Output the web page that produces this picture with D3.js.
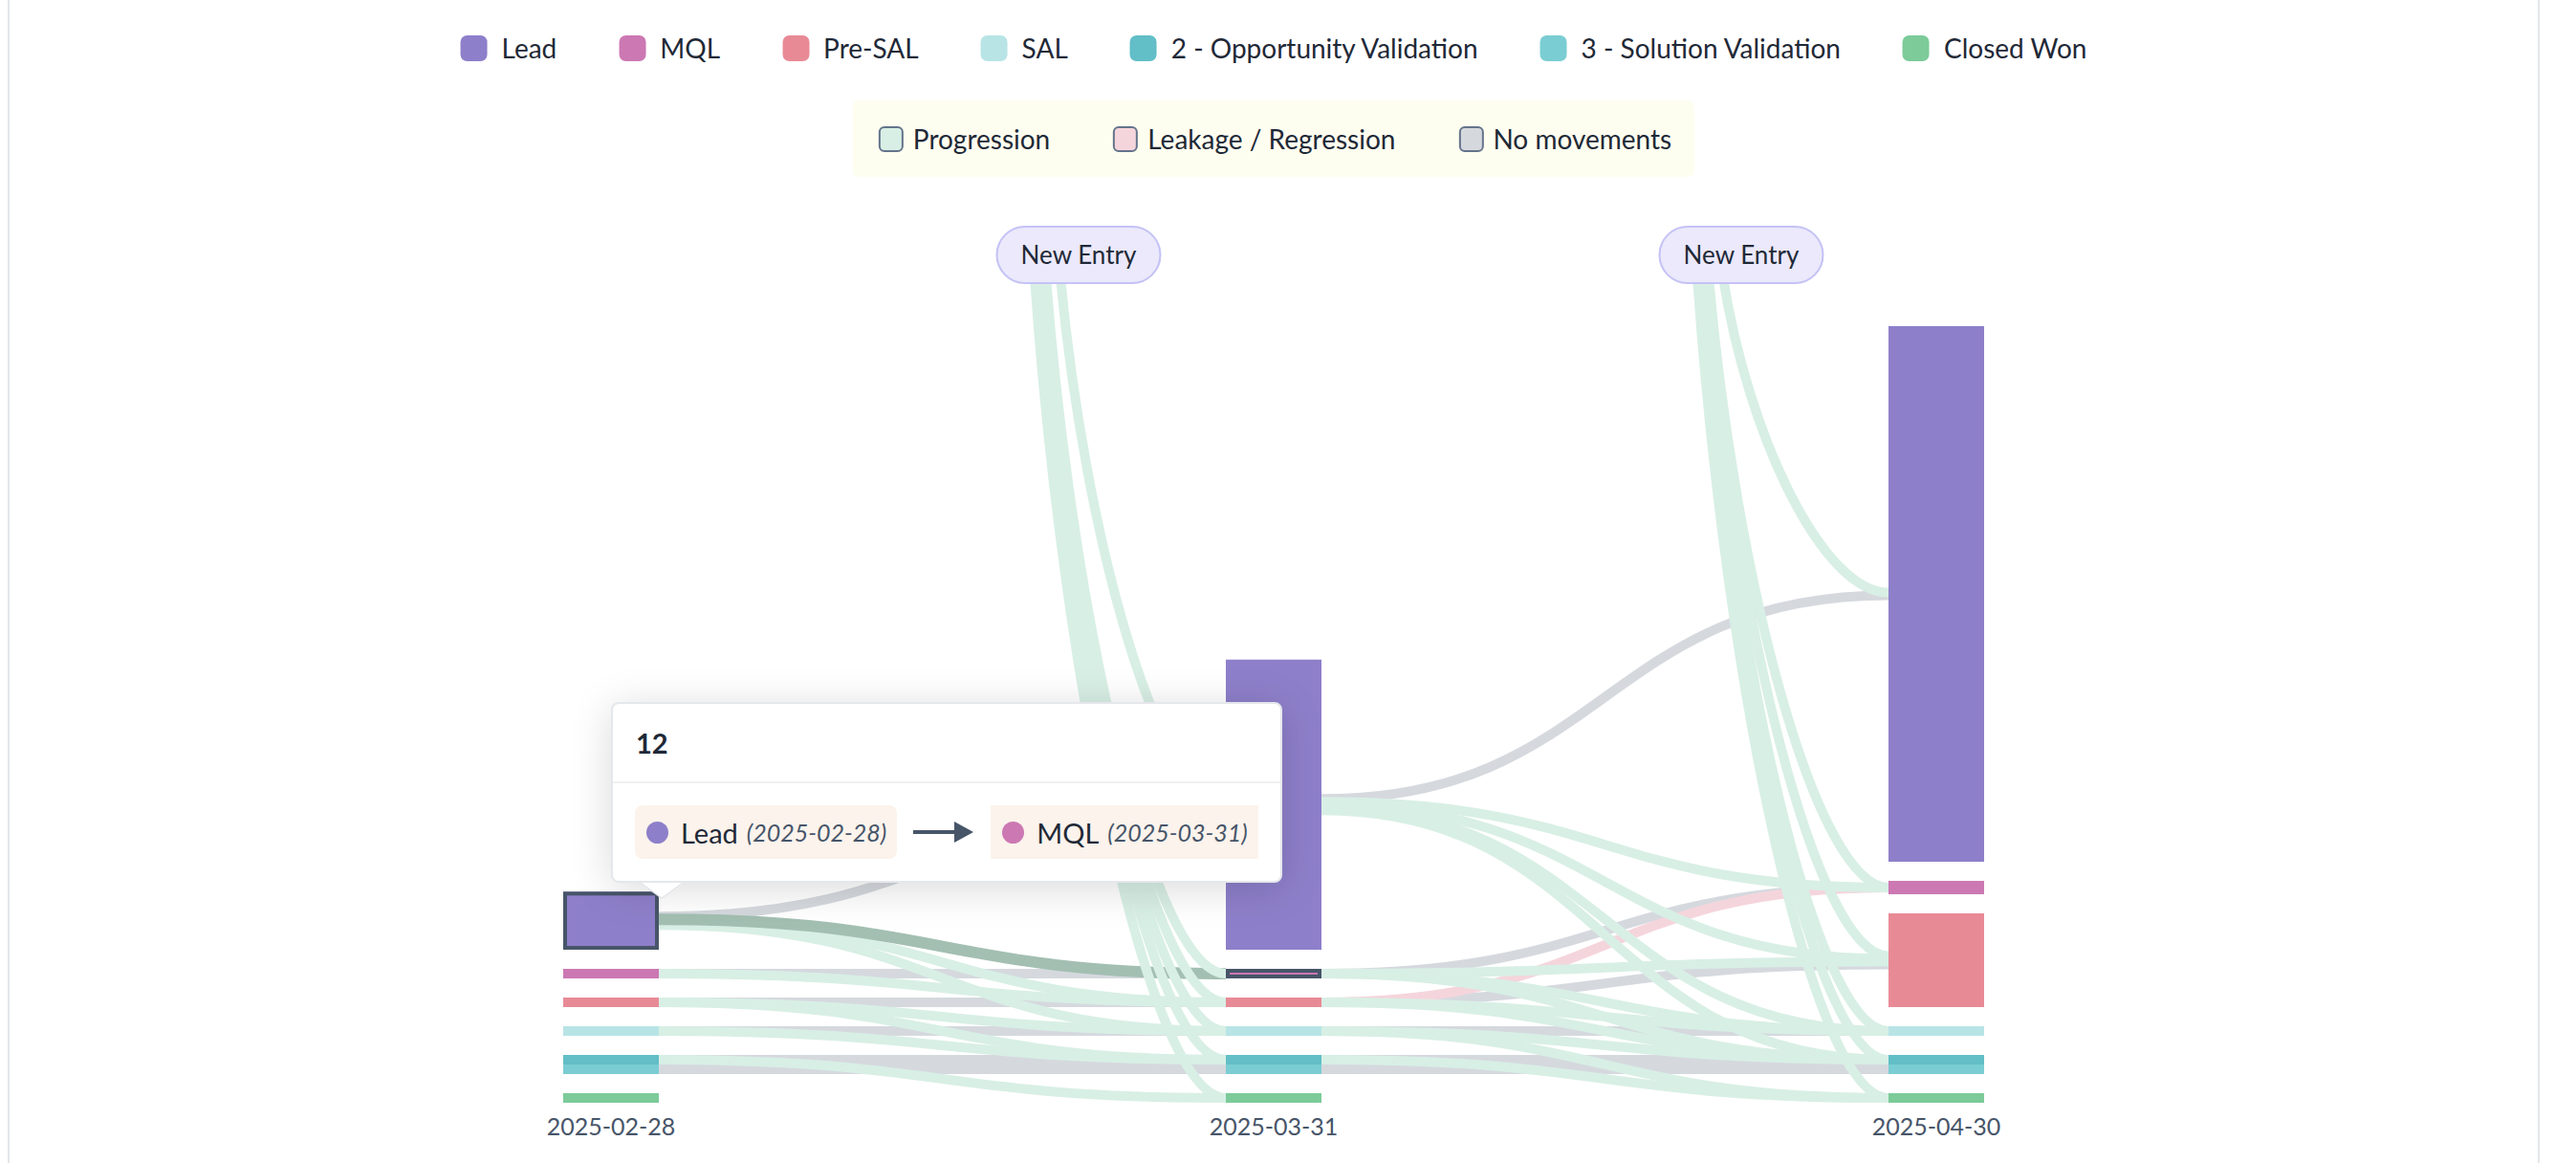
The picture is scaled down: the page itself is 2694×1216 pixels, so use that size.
<!DOCTYPE html>
<html>
<head>
<meta charset="utf-8">
<script src="https://cdn.jsdelivr.net/npm/d3@7"></script>
<style>
  html, body { margin: 0; padding: 0; background: #ffffff; width: 2694px; height: 1216px; overflow: hidden; font-family: Lato, "Noto Sans", sans-serif; }
  #card { position: absolute; left: 8px; top: 0; width: 2648px; height: 1216px; border-left: 2px solid #e3e6ea; border-right: 2px solid #e3e6ea; box-sizing: border-box; }
  #chart { position: absolute; left: 0; top: 0; }
  .legend-row { position: absolute; left: 1332px; transform: translateX(-50%); display: flex; align-items: center; white-space: nowrap; }
  #legend1 { top: 36px; gap: 65px; height: 28px; }
  #legend2 { top: 105px; height: 80px; gap: 66px; padding: 0 24px 0 27px; background: #fefef0; border-radius: 6px; }
  .item { display: flex; align-items: center; }
  .sw1 { width: 28px; height: 27px; border-radius: 7px; margin-right: 15px; }
  .sw2 { width: 26px; height: 27px; border-radius: 6px; margin-right: 10px; border: 2px solid #64748b; box-sizing: border-box; }
  .lt { font-size: 28px; color: #1f2937; line-height: 28px; }
  #tooltip { position: absolute; left: 639px; top: 734px; background: #fff; border: 2px solid #e4e7eb; border-radius: 8px; box-shadow: 0 6px 44px rgba(0,0,0,0.15); }
  #tt-head { height: 81px; border-bottom: 2px solid #eef0f2; padding-left: 24px; display: flex; align-items: center; font-weight: 700; font-size: 29px; color: #1f2937; }
  #tt-body { padding: 23px 23px 23px 23px; display: flex; align-items: center; }
  .tt-pill { height: 56px; display: flex; align-items: center; background: #fbf3ec; padding: 0 11px 0 12px; box-sizing: border-box; white-space: nowrap; }
  .tt-dot { width: 23px; height: 23px; border-radius: 50%; margin-right: 13px; }
  .tt-stage { font-size: 29px; color: #1f2937; }
  .tt-date { font-size: 25px; color: #475569; font-style: italic; margin-left: 9px; }
  #tt-pointer { position: absolute; left: 670px; top: 921px; }
</style>
</head>
<body>
<div id="card"></div>
<svg id="chart" width="2694" height="1216"></svg>
<div id="legend1" class="legend-row"></div>
<div id="legend2" class="legend-row"></div>
<div id="tooltip"><div id="tt-head"></div><div id="tt-body"></div></div>
<svg id="tt-pointer" width="46" height="20"></svg>
<script>
// ---------------- DATA ----------------
const dates = ["2025-02-28", "2025-03-31", "2025-04-30"];
const stages = ["Lead", "MQL", "Pre-SAL", "SAL", "2 - Opportunity Validation", "3 - Solution Validation", "Closed Won"];
const stageGroup = [0, 1, 2, 3, 4, 4, 5];
const stageColors = ["#8e7fca", "#cc78b3", "#e88a96", "#b8e4e6", "#62bec7", "#7acdd2", "#7ccb99"];

// records per stage at each snapshot date
const countsFeb = [13, 2, 2, 2, 2, 2, 2];
const countsMar = [65, 2, 2, 2, 2, 2, 2];
const countsApr = [120, 3, 21, 2, 2, 2, 2];

const flowTypes = ["progression", "regression", "none"];
const flowLabels = ["Progression", "Leakage / Regression", "No movements"];
const flowColors = ["#d8efe5", "#f5d5dc", "#d5d9de"];
const highlightColor = "#a3bfb2";

// [from stage, to stage, value, flow type]
const linksFebMar = [
  ["Lead", "Lead", 40, "none"],
  ["Lead", "MQL", 12, "progression"],
  ["Lead", "Pre-SAL", 3, "progression"],
  ["Lead", "SAL", 2, "progression"],
  ["MQL", "MQL", 1, "none"],
  ["MQL", "Pre-SAL", 1, "progression"],
  ["Pre-SAL", "Pre-SAL", 1, "none"],
  ["Pre-SAL", "SAL", 1, "progression"],
  ["Pre-SAL", "2 - Opportunity Validation", 1, "progression"],
  ["SAL", "SAL", 1, "none"],
  ["SAL", "2 - Opportunity Validation", 1, "progression"],
  ["2 - Opportunity Validation", "2 - Opportunity Validation", 1, "none"],
  ["2 - Opportunity Validation", "Closed Won", 1, "progression"],
  ["3 - Solution Validation", "3 - Solution Validation", 1, "none"]
];
const linksMarApr = [
  ["Lead", "Lead", 50, "none"],
  ["Lead", "MQL", 2, "progression"],
  ["Lead", "Pre-SAL", 6, "progression"],
  ["Lead", "SAL", 1, "progression"],
  ["Lead", "2 - Opportunity Validation", 1, "progression"],
  ["MQL", "MQL", 1, "none"],
  ["MQL", "Pre-SAL", 1, "progression"],
  ["MQL", "SAL", 1, "progression"],
  ["MQL", "2 - Opportunity Validation", 1, "progression"],
  ["Pre-SAL", "MQL", 1, "regression"],
  ["Pre-SAL", "Pre-SAL", 1, "none"],
  ["Pre-SAL", "SAL", 1, "progression"],
  ["Pre-SAL", "2 - Opportunity Validation", 1, "progression"],
  ["SAL", "SAL", 1, "none"],
  ["SAL", "2 - Opportunity Validation", 1, "progression"],
  ["SAL", "Closed Won", 1, "progression"],
  ["2 - Opportunity Validation", "2 - Opportunity Validation", 1, "none"],
  ["2 - Opportunity Validation", "Closed Won", 1, "progression"],
  ["3 - Solution Validation", "3 - Solution Validation", 1, "none"]
];
// New entries arriving at a snapshot: [to stage, value]
const newEntryMar = [["Lead", 20], ["MQL", 1], ["Pre-SAL", 1], ["SAL", 1], ["2 - Opportunity Validation", 1], ["Closed Won", 1]];
const newEntryApr = [["Lead", 60], ["MQL", 1], ["Pre-SAL", 12], ["SAL", 1], ["2 - Opportunity Validation", 1], ["Closed Won", 1]];
const newEntryLabel = "New Entry";

// hovered state shown in the reference
const hoverLink = { from: "Lead", fromDate: "2025-02-28", to: "MQL", toDate: "2025-03-31", value: 12 };

// ---------------- LAYOUT ----------------
const NODE_W = 100, MIN_H = 10, GAP = 20, BASE = 1153, LINK_W = 10, HL_W = 12;
const x = d3.scalePoint().domain(dates).range([639, 2025]);
const hScale = d3.scaleLinear().domain([0, 120]).range([0, 560]);
const color = d3.scaleOrdinal().domain(stages).range(stageColors);
const flowColor = d3.scaleOrdinal().domain(flowTypes).range(flowColors);

const allCounts = [countsFeb, countsMar, countsApr];
const nodes = {};
dates.forEach((d, di) => {
  let y = BASE;
  for (let si = stages.length - 1; si >= 0; si--) {
    const h = Math.max(MIN_H, hScale(allCounts[di][si]));
    nodes[d + "|" + stages[si]] = { date: d, stage: stages[si], x0: x(d) - NODE_W / 2, x1: x(d) + NODE_W / 2, y0: y - h, y1: y, out: [], inc: [] };
    y -= h;
    if (si > 0 && stageGroup[si - 1] !== stageGroup[si]) y -= GAP;
  }
});

const pillW = 171, pillH = 59, pillTop = 237;
const pills = dates.slice(1).map(d => ({ date: d, cx: x(d) - 0.2944 * x.step() }));

const links = [];
function addLinks(arr, d0, d1) {
  arr.forEach(([a, b, v, t]) => {
    const l = { type: t, value: v, s: nodes[d0 + "|" + a], t: nodes[d1 + "|" + b], ne: false };
    l.highlight = (a === hoverLink.from && d0 === hoverLink.fromDate && b === hoverLink.to && d1 === hoverLink.toDate);
    l.s.out.push(l); l.t.inc.push(l);
    links.push(l);
  });
}
addLinks(linksFebMar, dates[0], dates[1]);
addLinks(linksMarApr, dates[1], dates[2]);
function addNew(arr, pill) {
  let j = 0;
  arr.forEach(([b, v]) => {
    const si = stages.indexOf(b);
    const sx = si === 0 ? pill.cx - 19 : pill.cx - 34 - (j++) * 3;
    const l = { type: "progression", value: v, ne: true, sx: sx, sy: pillTop + pillH - 6, t: nodes[pill.date + "|" + b] };
    l.t.inc.push(l);
    links.push(l);
  });
}
addNew(newEntryMar, pills[0]);
addNew(newEntryApr, pills[1]);

const cy = n => (n.y0 + n.y1) / 2;
// small offsets for links attached to tall nodes
Object.values(nodes).forEach(n => {
  const h = n.y1 - n.y0;
  const step = h > 30 ? 3 : 0;
  n.out.sort((a, b) => cy(a.t) - cy(b.t));
  n.out.forEach((l, i) => { l.ys = cy(n) + (i - (n.out.length - 1) / 2) * step; });
  n.inc.sort((a, b) => (a.ne ? a.sy : cy(a.s)) - (b.ne ? b.sy : cy(b.s)));
  n.inc.forEach((l, i) => { l.yt = cy(n) + (i - (n.inc.length - 1) / 2) * step; });
});

const linkH = d3.linkHorizontal().x(p => p[0]).y(p => p[1]);
function linkPath(l) {
  if (!l.ne) return linkH({ source: [l.s.x1, l.ys], target: [l.t.x0, l.yt] });
  const tx = l.t.x0, ty = l.yt, dx = tx - l.sx, dy = ty - l.sy;
  const p = d3.path();
  p.moveTo(l.sx, l.sy);
  p.bezierCurveTo(l.sx + 0.15 * dx, l.sy + 0.5 * dy, tx - 0.4 * dx, ty, tx, ty);
  return p.toString();
}

// ---------------- DRAW ----------------
const svg = d3.select("#chart");
const order = { none: 0, regression: 1, progression: 2 };
const sorted = links.slice().sort((a, b) => (a.highlight - b.highlight) || (order[a.type] - order[b.type]));
svg.append("g").attr("fill", "none")
  .selectAll("path").data(sorted).join("path")
  .attr("d", linkPath)
  .attr("stroke", l => l.highlight ? highlightColor : flowColor(l.type))
  .attr("stroke-width", l => l.highlight ? HL_W : LINK_W);

const highlightNodes = [hoverLink.fromDate + "|" + hoverLink.from, hoverLink.toDate + "|" + hoverLink.to];
const nodeArr = Object.entries(nodes).map(([k, n]) => Object.assign(n, { key: k }));
svg.append("g").selectAll("rect").data(nodeArr).join("rect")
  .attr("x", n => n.x0).attr("y", n => n.y0)
  .attr("width", n => n.x1 - n.x0).attr("height", n => n.y1 - n.y0)
  .attr("fill", n => color(n.stage));
svg.append("g").selectAll("rect").data(nodeArr.filter(n => highlightNodes.includes(n.key))).join("rect")
  .attr("x", n => n.x0 + 2).attr("y", n => n.y0 + 2)
  .attr("width", n => n.x1 - n.x0 - 4).attr("height", n => n.y1 - n.y0 - 4)
  .attr("fill", "none").attr("stroke", "#475569").attr("stroke-width", 4);

const pg = svg.append("g").selectAll("g").data(pills).join("g");
pg.append("rect")
  .attr("x", p => p.cx - pillW / 2).attr("y", pillTop)
  .attr("width", pillW).attr("height", pillH).attr("rx", pillH / 2)
  .attr("fill", "#ebe9fb").attr("stroke", "#c4c2f5").attr("stroke-width", 2);
pg.append("text")
  .attr("x", p => p.cx).attr("y", pillTop + pillH / 2 + 9)
  .attr("text-anchor", "middle").attr("font-size", 26).attr("fill", "#1f2937")
  .text(newEntryLabel);

svg.append("g").selectAll("text").data(dates).join("text")
  .attr("x", d => x(d)).attr("y", 1187)
  .attr("text-anchor", "middle").attr("font-size", 25).attr("fill", "#475569")
  .text(d => d);

// legends
const l1 = d3.select("#legend1").selectAll("div").data(stages).join("div").attr("class", "item");
l1.append("span").attr("class", "sw1").style("background", s => color(s));
l1.append("span").attr("class", "lt").text(s => s);
const l2 = d3.select("#legend2").selectAll("div").data(flowTypes).join("div").attr("class", "item");
l2.append("span").attr("class", "sw2").style("background", t => flowColor(t));
l2.append("span").attr("class", "lt").text((t, i) => flowLabels[i]);

// tooltip
d3.select("#tt-head").text(hoverLink.value);
const body = d3.select("#tt-body");
function ttPill(stage, date, radius) {
  const p = body.append("div").attr("class", "tt-pill").style("border-radius", radius + "px");
  p.append("span").attr("class", "tt-dot").style("background", color(stage));
  p.append("span").attr("class", "tt-stage").text(stage);
  p.append("span").attr("class", "tt-date").text("(" + date + ")");
}
ttPill(hoverLink.from, hoverLink.fromDate, 8);
const arr = body.append("svg").attr("width", 98).attr("height", 30).style("flex", "none");
arr.append("line").attr("x1", 17).attr("x2", 62).attr("y1", 15).attr("y2", 15).attr("stroke", "#475569").attr("stroke-width", 4);
arr.append("path").attr("d", "M60,4 L80,15 L60,26 Z").attr("fill", "#475569");
ttPill(hoverLink.to, hoverLink.toDate, 0);

const ptr = d3.select("#tt-pointer");
ptr.append("path").attr("d", "M0,2 L44,2 L22,18 Z").attr("fill", "#ffffff");
ptr.append("path").attr("d", "M0,2 L22,18 L44,2").attr("fill", "none").attr("stroke", "#e4e7eb").attr("stroke-width", 1.5);
</script>
</body>
</html>
